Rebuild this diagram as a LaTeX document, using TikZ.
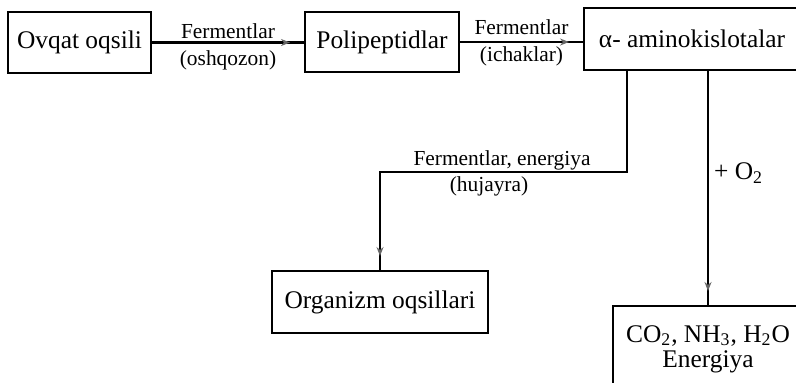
\documentclass[tikz,border=0pt]{standalone}
\usepackage{fontspec}
\setmainfont{Liberation Serif}
\usetikzlibrary{arrows.meta,decorations.markings}

\begin{document}
\begin{tikzpicture}[x=0.5pt, y=-0.5pt, >=Stealth,
    box/.style={draw, line width=1pt, inner sep=0pt, font=\fontsize{12.7}{12.5}\selectfont},
    lbl/.style={inner sep=0pt, font=\fontsize{10.7}{12}\selectfont},
    flow/.style={line width=1.1pt, postaction={decorate},
        decoration={markings, mark=at position -7pt with {\arrow[black!60]{Stealth[length=4.5pt,width=3.5pt]}}}}]
    \useasboundingbox (0,0) rectangle (796,382);

    % Digestion chain
    \node[box, minimum width=71.5pt, minimum height=30.5pt] (food) at (79.5,42.5) {Ovqat oqsili};
    \node[box, minimum width=77pt, minimum height=30pt] (peptide) at (382,42) {Polipeptidlar};
    \node[box, minimum width=108pt, minimum height=31pt] (amino) at (692,39) {α- aminokislotalar};

    \draw[flow] (food.east) -- (food.east -| peptide.west)
        node[lbl, midway, above=1.5pt] {Fermentlar}
        node[lbl, midway, below=3.5pt] {(oshqozon)};
    \draw[flow] (peptide.east) -- (peptide.east -| amino.west)
        node[lbl, midway, above=3pt] {Fermentlar}
        node[lbl, midway, below=2pt] {(ichaklar)};

    % Synthesis of own proteins
    \node[box, minimum width=108pt, minimum height=31pt] (organism) at (380,302) {Organizm oqsillari};
    \coordinate (turn) at (627,172);
    \draw[flow] (turn |- amino.south) -- (turn) -| (organism.north);
    \node[lbl] (enzcell) at (502,160) {Fermentlar, energiya};
    \node[lbl] (cell) at (489,186) {(hujayra)};

    % Oxidation
    \node[box, minimum width=95pt, minimum height=43pt, align=center] (products) at (708,349)
        {CO\textsubscript{2}, NH\textsubscript{3}, H\textsubscript{2}O\\Energiya};
    \draw[flow] (products.north |- amino.south) -- (products.north)
        node[pos=0.436, right=2.5pt, inner sep=0pt, font=\fontsize{12.7}{15}\selectfont] {+ O\textsubscript{2}};
\end{tikzpicture}
\end{document}
